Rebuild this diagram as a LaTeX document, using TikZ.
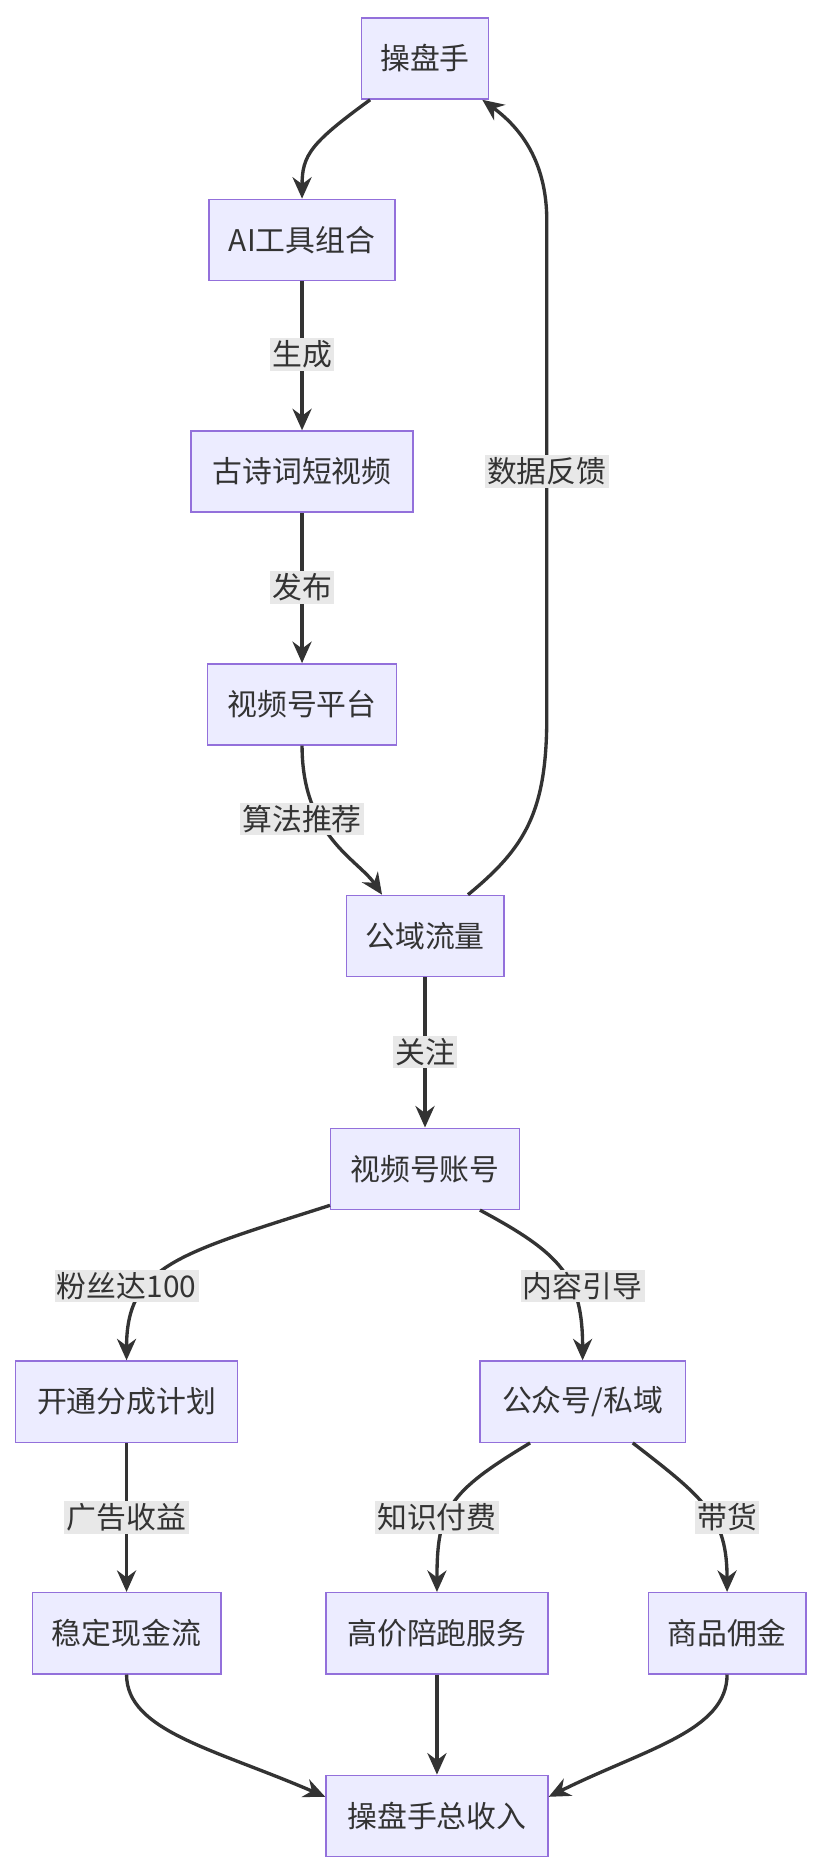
\documentclass[tikz,border=0pt]{standalone}
\usepackage{fontspec}
\setmainfont{Noto Sans CJK SC}
\usetikzlibrary{arrows.meta}
\definecolor{boxfill}{HTML}{ECECFF}
\definecolor{boxline}{HTML}{9370DB}
\definecolor{edge}{HTML}{333333}
\definecolor{lblbg}{HTML}{E8E8E8}
\tikzset{
  box/.style={draw=boxline, fill=boxfill, line width=0.6pt, minimum height=34pt, inner xsep=6pt, font=\fontsize{12.5pt}{15pt}\selectfont, text=edge},
  flow/.style={draw=edge, line width=1.4pt, -{Stealth[length=9pt,width=8pt]}},
  lbl/.style={fill=lblbg, inner sep=1pt, font=\fontsize{12.5pt}{15pt}\selectfont, text=edge}
}
\begin{document}
\begin{tikzpicture}[x=0.5pt,y=-0.5pt]
  \useasboundingbox (0,0) rectangle (690,1568);
  % nodes
  \node[box, minimum width=53pt] (op) at (356,49) {操盘手};
  \node[box, minimum width=78pt] (ai) at (253,201) {AI工具组合};
  \node[box, minimum width=93pt] (gs) at (253,395) {古诗词短视频};
  \node[box, minimum width=79pt] (pf) at (253,590) {视频号平台};
  \node[box, minimum width=66pt] (gy) at (356,784) {公域流量};
  \node[box, minimum width=79pt] (zh) at (356,979) {视频号账号};
  \node[box, minimum width=93pt] (kt) at (106,1174) {开通分成计划};
  \node[box, minimum width=86pt] (gz) at (488,1174) {公众号/私域};
  \node[box, minimum width=79pt] (wd) at (106,1368) {稳定现金流};
  \node[box, minimum width=93pt] (gp) at (366,1368) {高价陪跑服务};
  \node[box, minimum width=66pt] (sp) at (609,1368) {商品佣金};
  \node[box, minimum width=93pt] (tot) at (366,1521) {操盘手总收入};
  % edges
  \draw[flow] ([xshift=-23pt]op.south) .. controls (260,120) and (253,130) .. (ai.north);
  \draw[flow] (ai) -- (gs);
  \draw[flow] (gs) -- (pf);
  \draw[flow] (pf.south) .. controls (253,700) and (300,720) .. ([xshift=-18pt]gy.north);
  \draw[flow] ([xshift=18pt]gy.north) .. controls (440,710) and (458,680) .. (458,600)
    -- (458,185) .. controls (458,140) and (440,110) .. ([xshift=24pt]op.south);
  \draw[flow] (gy) -- (zh);
  \draw[flow] ([yshift=2pt]zh.south west) .. controls (150,1050) and (106,1060) .. (kt.north);
  \draw[flow] ([xshift=23pt]zh.south) .. controls (470,1050) and (488,1070) .. (gz.north);
  \draw[flow] (kt) -- (wd);
  \draw[flow] ([xshift=-22pt]gz.south) .. controls (375,1250) and (366,1265) .. (gp.north);
  \draw[flow] ([xshift=21pt]gz.south) .. controls (590,1255) and (609,1270) .. (sp.north);
  \draw[flow] (wd.south) .. controls (106,1450) and (180,1465) .. ([yshift=8pt]tot.west);
  \draw[flow] (gp) -- (tot);
  \draw[flow] (sp.south) .. controls (609,1450) and (540,1465) .. ([yshift=8pt]tot.east);
  % labels
  \node[lbl] (l1) at (253,297) {生成};
  \node[lbl] (l2) at (253,492) {发布};
  \node[lbl] (l3) at (253,686) {算法推荐};
  \node[lbl] (l4) at (458,395) {数据反馈};
  \node[lbl] (l5) at (356,881) {关注};
  \node[lbl] (l6) at (106,1077) {粉丝达100};
  \node[lbl] (l7) at (488,1077) {内容引导};
  \node[lbl] (l8) at (106,1271) {广告收益};
  \node[lbl] (l9) at (366,1271) {知识付费};
  \node[lbl] (l10) at (609,1271) {带货};
\end{tikzpicture}
\end{document}
